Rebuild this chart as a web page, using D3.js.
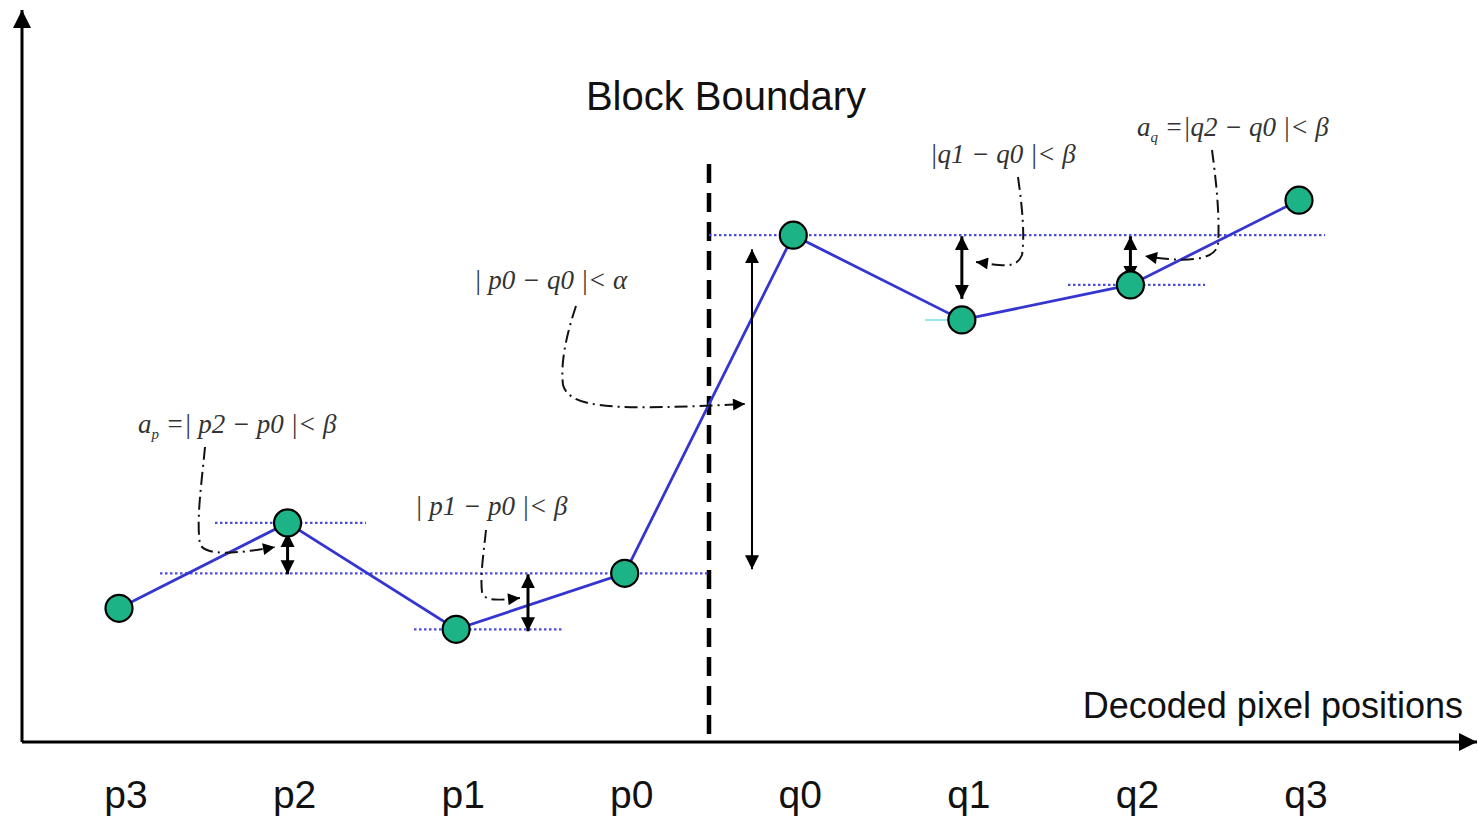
<!DOCTYPE html>
<html>
<head>
<meta charset="utf-8">
<script src="https://cdn.jsdelivr.net/npm/d3@7"></script>
<style>
  body { margin: 0; background: #fff; }
  svg { display: block; }
</style>
</head>
<body>
<svg width="1479" height="822"></svg>
<script>
var positions = ["p3", "p2", "p1", "p0", "q0", "q1", "q2", "q3"];
var pixelValues = [19.1, 31.3, 16.1, 24.1, 72.4, 60.3, 65.3, 77.4];

var svg = d3.select("svg"),
    width = +svg.attr("width"),
    height = +svg.attr("height");

var x = d3.scalePoint().domain(positions).range([119, 1299]);
var y = d3.scaleLinear().domain([0, 100]).range([742, 42]);

function val(name) { return pixelValues[positions.indexOf(name)]; }
function px(name) { return x(name); }
function py(name) { return y(val(name)); }

var defs = svg.append("defs");
function marker(id, w, h) {
  defs.append("marker")
    .attr("id", id)
    .attr("viewBox", "0 0 10 10")
    .attr("refX", 10).attr("refY", 5)
    .attr("markerUnits", "userSpaceOnUse")
    .attr("markerWidth", w).attr("markerHeight", h)
    .attr("orient", "auto-start-reverse")
    .append("path")
      .attr("d", "M0,0 L10,5 L0,10 Z")
      .attr("fill", "#000");
}
marker("axisArrow", 18, 20);
marker("dblArrow", 14, 20);
marker("leadArrow", 14, 12);

// axes
svg.append("line")
  .attr("x1", 22).attr("y1", 742).attr("x2", 22).attr("y2", 10)
  .attr("stroke", "#000").attr("stroke-width", 3)
  .attr("marker-end", "url(#axisArrow)");
svg.append("line")
  .attr("x1", 22).attr("y1", 742).attr("x2", 1477).attr("y2", 742)
  .attr("stroke", "#000").attr("stroke-width", 3)
  .attr("marker-end", "url(#axisArrow)");

svg.selectAll(".xlab")
  .data(positions)
  .enter()
  .append("text")
    .attr("x", function (d) { return x(d) + 7; })
    .attr("y", 808)
    .attr("text-anchor", "middle")
    .attr("font-family", "Liberation Sans, Arial, sans-serif")
    .attr("font-size", 39)
    .attr("fill", "#111")
    .text(function (d) { return d; });

svg.append("text")
  .attr("x", 1463).attr("y", 718)
  .attr("text-anchor", "end")
  .attr("font-family", "Liberation Sans, Arial, sans-serif")
  .attr("font-size", 36)
  .attr("fill", "#111")
  .text("Decoded pixel positions");

// block boundary
var bx = (x("p0") + x("q0")) / 2;
svg.append("line")
  .attr("x1", bx).attr("y1", 164).attr("x2", bx).attr("y2", 742)
  .attr("stroke", "#000").attr("stroke-width", 4.5)
  .attr("stroke-dasharray", "19,10");
svg.append("text")
  .attr("x", 726).attr("y", 110)
  .attr("text-anchor", "middle")
  .attr("font-family", "Liberation Sans, Arial, sans-serif")
  .attr("font-size", 40)
  .attr("fill", "#111")
  .text("Block Boundary");

// dotted reference levels
var levels = [
  { at: "p2", x1: 215, x2: 366 },
  { at: "p0", x1: 160, x2: bx },
  { at: "p1", x1: 414, x2: 564 },
  { at: "q0", x1: bx, x2: 1325 },
  { at: "q2", x1: 1068, x2: 1205 }
];
svg.selectAll(".level")
  .data(levels)
  .enter()
  .append("line")
    .attr("x1", function (d) { return d.x1; })
    .attr("x2", function (d) { return d.x2; })
    .attr("y1", function (d) { return py(d.at); })
    .attr("y2", function (d) { return py(d.at); })
    .attr("stroke", "#4d4dd8").attr("stroke-width", 2.2)
    .attr("stroke-dasharray", "2.5,2.5");
svg.append("line")
  .attr("x1", 925).attr("x2", px("q1")).attr("y1", py("q1")).attr("y2", py("q1"))
  .attr("stroke", "#9ee6ee").attr("stroke-width", 2);

// pixel line
var line = d3.line()
  .x(function (d, i) { return x(positions[i]); })
  .y(function (d) { return y(d); });
svg.append("path")
  .datum(pixelValues)
  .attr("d", line)
  .attr("fill", "none")
  .attr("stroke", "#3535d0")
  .attr("stroke-width", 2.8);

// double arrows between levels
var spans = [
  { xx: px("p2"), from: py("p2") + 10, to: py("p0") + 1, w: 3 },
  { xx: 528, from: py("p0") + 1, to: py("p1") + 2, w: 3 },
  { xx: 752, from: py("q0") + 14, to: py("p0") - 4, w: 2 },
  { xx: px("q1"), from: py("q0") + 1, to: py("q1") - 21, w: 3 },
  { xx: px("q2"), from: py("q0") + 1, to: py("q2") - 5, w: 3 }
];
svg.selectAll(".span")
  .data(spans)
  .enter()
  .append("line")
    .attr("x1", function (d) { return d.xx; })
    .attr("x2", function (d) { return d.xx; })
    .attr("y1", function (d) { return d.from; })
    .attr("y2", function (d) { return d.to; })
    .attr("stroke", "#000")
    .attr("stroke-width", function (d) { return d.w; })
    .attr("marker-start", "url(#dblArrow)")
    .attr("marker-end", "url(#dblArrow)");

// points
svg.selectAll(".node")
  .data(pixelValues)
  .enter()
  .append("circle")
    .attr("cx", function (d, i) { return x(positions[i]); })
    .attr("cy", function (d) { return y(d); })
    .attr("r", 13.5)
    .attr("fill", "#1cb487")
    .attr("stroke", "#000")
    .attr("stroke-width", 2.2);

// annotations
var notes = [
  { tx: 138, ty: 433, sub: "p", body: " =| p2 − p0 |< β", lead: "a",
    d: "M205,447 C202,480 196,520 200,544 C205,556 235,554 275,547" },
  { tx: 415, ty: 515, sub: null, body: "| p1 − p0 |< β",
    d: "M486,530 C484,550 480,575 482,592 C484,602 500,600 520,598" },
  { tx: 474, ty: 289, sub: null, body: "| p0 − q0 |< α",
    d: "M576,306 C568,330 560,360 563,385 C570,410 620,410 745,404" },
  { tx: 930, ty: 163, sub: null, body: "|q1 − q0 |< β",
    d: "M1018,177 C1022,205 1025,235 1022,255 C1016,270 1000,265 976,262" },
  { tx: 1137, ty: 136, sub: "q", body: " =|q2 − q0 |< β", lead: "a",
    d: "M1212,150 C1216,180 1220,215 1218,245 C1214,262 1180,262 1145,256" }
];

svg.selectAll(".lead")
  .data(notes)
  .enter()
  .append("path")
    .attr("d", function (d) { return d.d; })
    .attr("fill", "none")
    .attr("stroke", "#111")
    .attr("stroke-width", 2)
    .attr("stroke-dasharray", "13,5,2,5")
    .attr("marker-end", "url(#leadArrow)");

var labels = svg.selectAll(".note")
  .data(notes)
  .enter()
  .append("text")
    .attr("x", function (d) { return d.tx; })
    .attr("y", function (d) { return d.ty; })
    .attr("font-family", "Liberation Serif, Times New Roman, serif")
    .attr("font-style", "italic")
    .attr("font-size", 27)
    .attr("fill", "#333");
labels.each(function (d) {
  var t = d3.select(this);
  if (d.lead) {
    t.append("tspan").text(d.lead);
    t.append("tspan").attr("font-size", 15).attr("dy", 6).text(d.sub);
    t.append("tspan").attr("dy", -6).text(d.body);
  } else {
    t.append("tspan").text(d.body);
  }
});
</script>
</body>
</html>
